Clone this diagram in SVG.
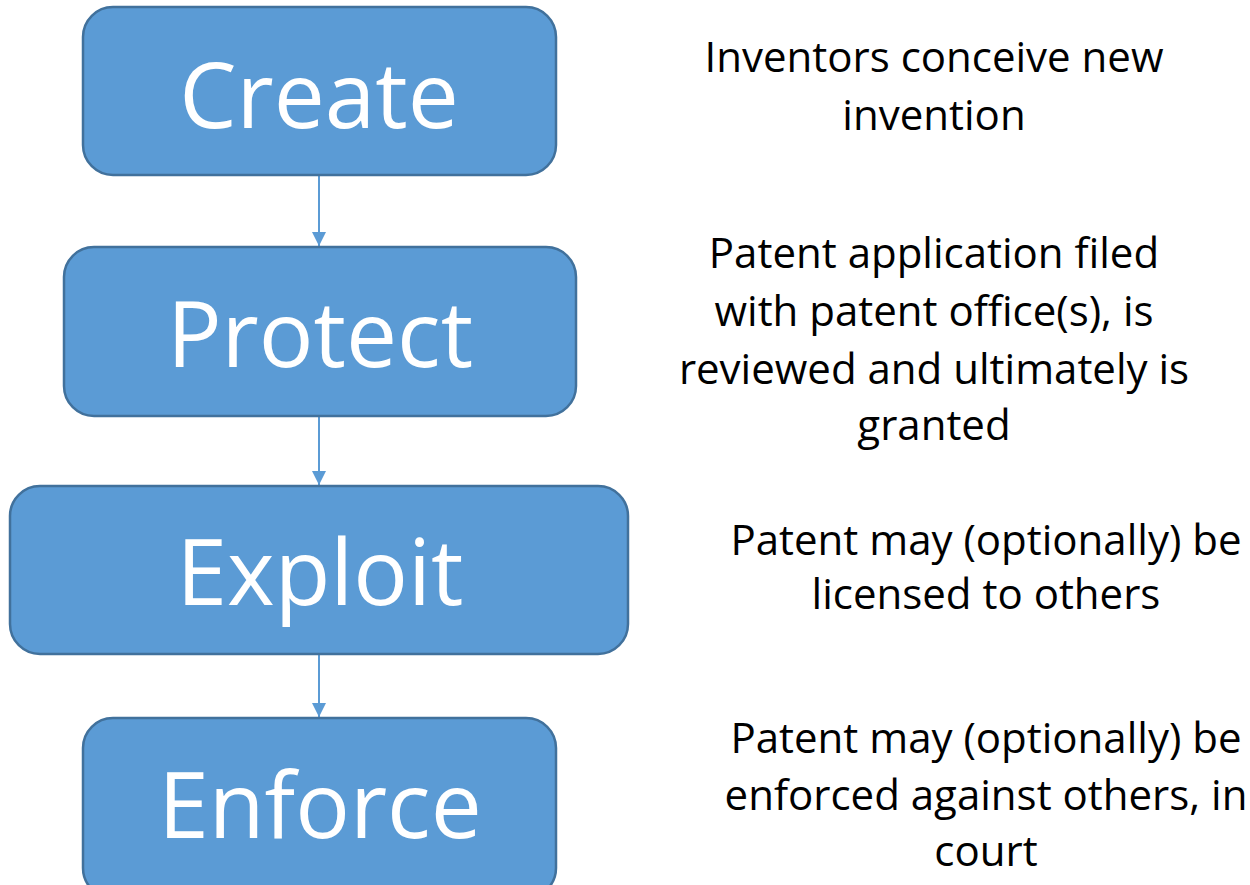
<svg xmlns="http://www.w3.org/2000/svg" width="1250" height="885" viewBox="0 0 1250 885">
<style>
.box{fill:#5B9BD5;stroke:#41719C;stroke-width:2.5}
.lbl{font-family:"Open Sans","Noto Sans",sans-serif;font-size:91px;fill:#fff;text-anchor:middle}
.desc{font-family:"Open Sans","Noto Sans",sans-serif;font-size:42px;fill:#000;text-anchor:middle}
.conn{stroke:#5B9BD5;stroke-width:2;fill:none}
</style>
<defs>
<marker id="arr" markerWidth="14" markerHeight="14" refX="14" refY="7" orient="auto" markerUnits="userSpaceOnUse">
<path d="M0,0 L14,7 L0,14 Z" fill="#5B9BD5"/>
</marker>
</defs>
<rect width="1250" height="885" fill="#fff"/>
<g id="connectors">
<line class="conn" x1="319" y1="176" x2="319" y2="246" marker-end="url(#arr)"/>
<line class="conn" x1="319" y1="417" x2="319" y2="485" marker-end="url(#arr)"/>
<line class="conn" x1="319" y1="655" x2="319" y2="717" marker-end="url(#arr)"/>
</g>
<g id="create">
<rect class="box" x="83" y="7" width="473" height="168" rx="30"/>
<text class="lbl" x="319" y="128">Create</text>
</g>
<g id="protect">
<rect class="box" x="64" y="247" width="512" height="169" rx="30"/>
<text class="lbl" x="320" y="367">Protect</text>
</g>
<g id="exploit">
<rect class="box" x="10" y="486" width="618" height="168" rx="30"/>
<text class="lbl" x="320" y="605">Exploit</text>
</g>
<g id="enforce">
<rect class="box" x="83" y="718" width="473" height="180" rx="30"/>
<text class="lbl" x="320" y="838">Enforce</text>
</g>
<g id="desc-create">
<text class="desc" x="934" y="72">Inventors conceive new</text>
<text class="desc" x="934" y="130">invention</text>
</g>
<g id="desc-protect">
<text class="desc" x="934" y="268">Patent application filed</text>
<text class="desc" x="934" y="326">with patent office(s), is</text>
<text class="desc" x="934" y="384">reviewed and ultimately is</text>
<text class="desc" x="934" y="440">granted</text>
</g>
<g id="desc-exploit">
<text class="desc" x="986" y="555">Patent may (optionally) be</text>
<text class="desc" x="986" y="609">licensed to others</text>
</g>
<g id="desc-enforce">
<text class="desc" x="986" y="753">Patent may (optionally) be</text>
<text class="desc" x="986" y="810">enforced against others, in</text>
<text class="desc" x="986" y="866">court</text>
</g>
</svg>
